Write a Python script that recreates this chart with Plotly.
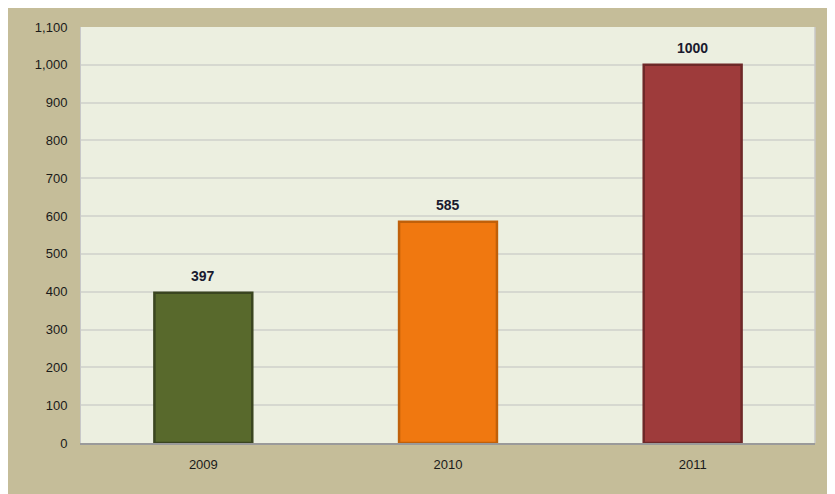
import plotly.graph_objects as go

years = ["2009", "2010", "2011"]
values = [397, 585, 1000]
labels = ["397", "585", "1000"]
bar_colors = ["#58692C", "#F07810", "#9E3B3B"]
edge_colors = ["#3A4520", "#C0600A", "#6E2828"]
y_ticks = [0, 100, 200, 300, 400, 500, 600, 700, 800, 900, 1000, 1100]

W, H = 835, 494
# the page body adds an 8px offset, so margins are reduced by 8
ml, mr, mt, mb = 73, 28, 19, 59

FONT = "Liberation Sans Narrow, Arial Narrow, Liberation Sans, sans-serif"

fig = go.Figure()
fig.add_trace(go.Bar(
    x=years, y=values, width=0.4,
    marker=dict(color=bar_colors, line=dict(color=edge_colors, width=2.5)),
    hoverinfo="x+y",
))

# on a category axis, annotation x is the category index
for i, (v, t) in enumerate(zip(values, labels)):
    fig.add_annotation(x=i, y=v, text="<b>" + t + "</b>", showarrow=False,
                       yanchor="bottom", yshift=7,
                       font=dict(family=FONT, size=14, color="#1A1A2E"))

fig.update_layout(
    width=W, height=H,
    margin=dict(l=ml, r=mr, t=mt, b=mb),
    paper_bgcolor="#C5BD99",
    plot_bgcolor="#ECEFE0",
    showlegend=False,
    font=dict(family=FONT, size=13, color="#222222"),
    xaxis=dict(type="category", range=[-0.5, len(years) - 0.5],
               showline=True, linecolor="#9A9A9A", linewidth=2, ticks="",
               ticklabelstandoff=8, tickfont=dict(size=13, color="#1A1A1A")),
    yaxis=dict(range=[0, 1100], tickvals=y_ticks, tickformat=",",
               showgrid=True, gridcolor="#D6D8D0", gridwidth=1.5,
               showline=True, linecolor="#C8C8C8", linewidth=1,
               ticks="", ticklabelstandoff=10, tickfont=dict(size=13, color="#1A1A1A"),
               zeroline=False),
)
fig.add_shape(type="line", xref="paper", yref="paper", x0=1, x1=1, y0=0, y1=1,
              line=dict(color="#C8C8C8", width=1.5))

fig.write_html("out.html")
